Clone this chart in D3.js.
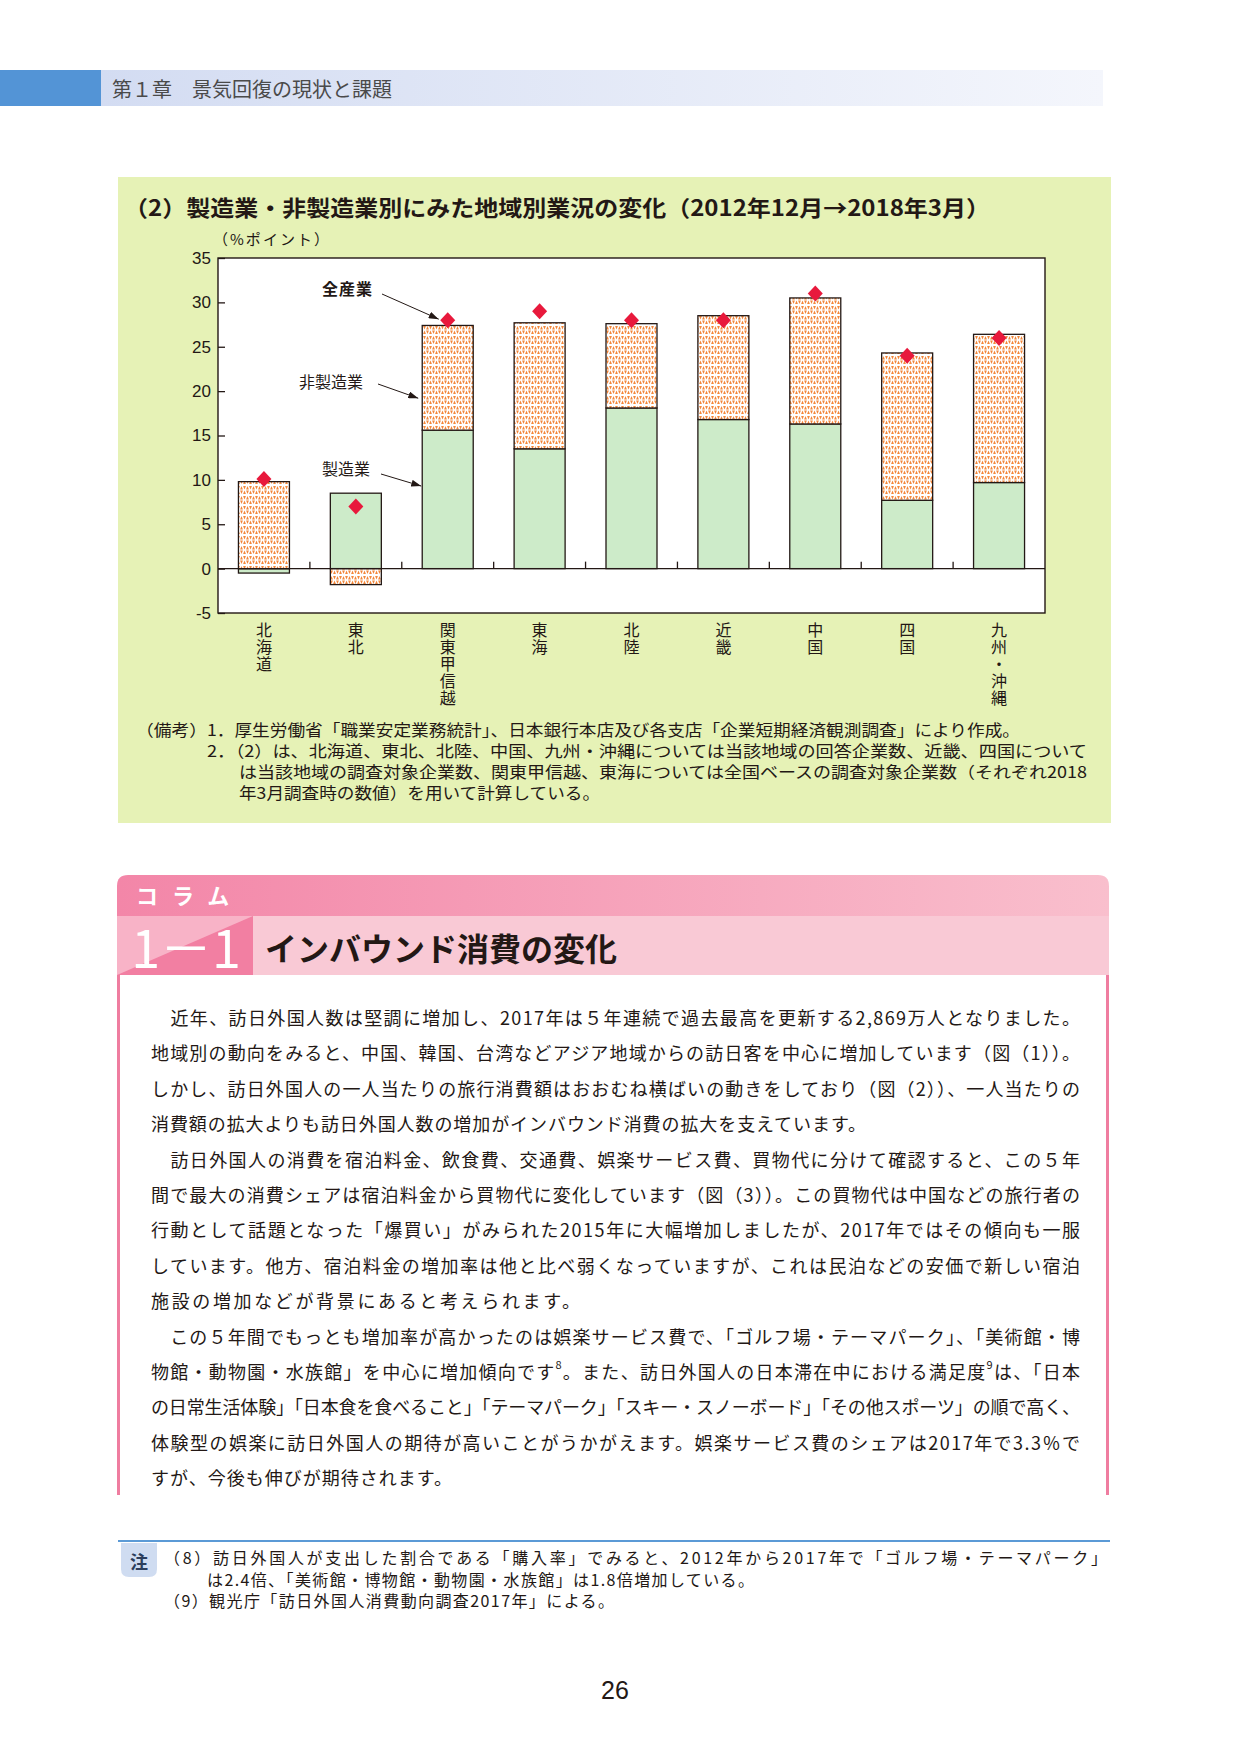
<!DOCTYPE html>
<html>
<head>
<meta charset="utf-8">
<script src="https://cdn.jsdelivr.net/npm/d3@7"></script>
<style>
  body { margin: 0; background: #fff; }
  svg text { font-family: "Noto Sans CJK JP", "Noto Sans", sans-serif; fill: #231815; }
</style>
</head>
<body>
<div id="page"></div>
<script>
// data
const regions = ["北海道", "東北", "関東甲信越", "東海", "北陸", "近畿", "中国", "四国", "九州・沖縄"];
const manufacturing = [-0.5, 8.5, 15.6, 13.5, 18.1, 16.8, 16.3, 7.7, 9.7];
const nonManufacturing = [9.8, -1.8, 11.8, 14.2, 9.5, 11.7, 14.2, 16.6, 16.7];
const allIndustries = [10.1, 7.0, 28.0, 29.0, 28.0, 28.0, 31.0, 24.0, 26.0];
const yTicks = [-5, 0, 5, 10, 15, 20, 25, 30, 35];

const chartTitle = "（2）製造業・非製造業別にみた地域別業況の変化（2012年12月→2018年3月）";
const unitLabel = "（%ポイント）";
const chartNotes = [
  ["（備考）", 136, 207],
  ["1．厚生労働省「職業安定業務統計」、日本銀行本店及び各支店「企業短期経済観測調査」により作成。", 207, 1020],
  ["2．（2）は、北海道、東北、北陸、中国、九州・沖縄については当該地域の回答企業数、近畿、四国について", 207, 1087],
  ["は当該地域の調査対象企業数、関東甲信越、東海については全国ベースの調査対象企業数（それぞれ2018", 239, 1087],
  ["年3月調査時の数値）を用いて計算している。", 239, 600]
];
const noteRows = [0, 0, 1, 2, 3];

const bodyLines = [
  ["　近年、訪日外国人数は堅調に増加し、2017年は５年連続で過去最高を更新する2,869万人となりました。", 1080],
  ["地域別の動向をみると、中国、韓国、台湾などアジア地域からの訪日客を中心に増加しています（図（1））。", 1080],
  ["しかし、訪日外国人の一人当たりの旅行消費額はおおむね横ばいの動きをしており（図（2））、一人当たりの", 1080],
  ["消費額の拡大よりも訪日外国人数の増加がインバウンド消費の拡大を支えています。", 866],
  ["　訪日外国人の消費を宿泊料金、飲食費、交通費、娯楽サービス費、買物代に分けて確認すると、この５年", 1080],
  ["間で最大の消費シェアは宿泊料金から買物代に変化しています（図（3））。この買物代は中国などの旅行者の", 1080],
  ["行動として話題となった「爆買い」がみられた2015年に大幅増加しましたが、2017年ではその傾向も一服", 1080],
  ["しています。他方、宿泊料金の増加率は他と比べ弱くなっていますが、これは民泊などの安価で新しい宿泊", 1080],
  ["施設の増加などが背景にあると考えられます。", 580],
  ["　この５年間でもっとも増加率が高かったのは娯楽サービス費で、「ゴルフ場・テーマパーク」、「美術館・博", 1080],
  ["物館・動物園・水族館」を中心に増加傾向です|8|。また、訪日外国人の日本滞在中における満足度|9|は、「日本", 1080],
  ["の日常生活体験」「日本食を食べること」「テーマパーク」「スキー・スノーボード」「その他スポーツ」の順で高く、", 1080],
  ["体験型の娯楽に訪日外国人の期待が高いことがうかがえます。娯楽サービス費のシェアは2017年で3.3％で", 1080],
  ["すが、今後も伸びが期待されます。", 452]
];

const footNotes = [
  ["（8）訪日外国人が支出した割合である「購入率」でみると、2012年から2017年で「ゴルフ場・テーマパーク」", 164, 1107],
  ["は2.4倍、「美術館・博物館・動物園・水族館」は1.8倍増加している。", 207, 754],
  ["（9）観光庁「訪日外国人消費動向調査2017年」による。", 164, 614]
];

const W = 1241, H = 1754;
const svg = d3.select("#page").append("svg")
  .attr("width", W).attr("height", H)
  .attr("viewBox", `0 0 ${W} ${H}`);
const defs = svg.append("defs");

// header gradient
const hg = defs.append("linearGradient").attr("id", "headGrad");
hg.append("stop").attr("offset", "0%").attr("stop-color", "#d3dcf2");
hg.append("stop").attr("offset", "100%").attr("stop-color", "#f4f6fc");

const pg = defs.append("linearGradient").attr("id", "pinkGrad");
pg.append("stop").attr("offset", "0%").attr("stop-color", "#f386a8");
pg.append("stop").attr("offset", "100%").attr("stop-color", "#f9bfcd");

// orange triangle texture for the non-manufacturing part
const pat = defs.append("pattern").attr("id", "tri")
  .attr("patternUnits", "userSpaceOnUse")
  .attr("width", 6).attr("height", 10);
pat.append("rect").attr("width", 6).attr("height", 10).attr("fill", "#fff");
pat.append("path")
  .attr("d", "M0.1,0.6 L2.9,0.6 L1.5,4 Z M3.1,4 L5.9,4 L4.5,0.6 Z M0.1,9.4 L2.9,9.4 L1.5,6 Z M3.1,6 L5.9,6 L4.5,9.4 Z")
  .attr("fill", "#f3873a");

defs.append("marker").attr("id", "arrow")
  .attr("markerUnits", "userSpaceOnUse")
  .attr("viewBox", "0 0 10 7").attr("refX", 10).attr("refY", 3.5)
  .attr("markerWidth", 10).attr("markerHeight", 7).attr("orient", "auto")
  .append("path").attr("d", "M0,0 L10,3.5 L0,7 Z").attr("fill", "#231815");

// ---- page header
svg.append("rect").attr("x", 0).attr("y", 70).attr("width", 101).attr("height", 36).attr("fill", "#5394d6");
svg.append("rect").attr("x", 101).attr("y", 70).attr("width", 1002).attr("height", 36).attr("fill", "url(#headGrad)");
svg.append("text").attr("x", 112).attr("y", 88).attr("dominant-baseline", "central")
  .attr("font-size", 20).style("fill", "#4a4a4a")
  .text("第１章　景気回復の現状と課題");

// ---- chart panel
svg.append("rect").attr("x", 118).attr("y", 177).attr("width", 993).attr("height", 646).attr("fill", "#e6f2b6");

svg.append("text").attr("x", 124).attr("y", 206).attr("dominant-baseline", "central")
  .attr("font-size", 22).attr("font-weight", "bold")
  .attr("textLength", 866).attr("lengthAdjust", "spacingAndGlyphs")
  .text(chartTitle);

svg.append("text").attr("x", 213).attr("y", 238).attr("dominant-baseline", "central")
  .attr("font-size", 15).attr("textLength", 116).attr("lengthAdjust", "spacing")
  .text(unitLabel);

const plot = { left: 218, right: 1045, top: 258, bottom: 613 };

const x = d3.scaleBand().domain(regions)
  .range([plot.left, plot.right])
  .paddingInner(0.445).paddingOuter(0.2225);
const y = d3.scaleLinear().domain([-5, 35]).range([plot.bottom, plot.top]);

svg.append("rect").attr("x", plot.left).attr("y", plot.top)
  .attr("width", plot.right - plot.left).attr("height", plot.bottom - plot.top)
  .attr("fill", "#fff");

const rows = regions.map((r, i) => ({ region: r, mfg: manufacturing[i], non: nonManufacturing[i] }));
const series = d3.stack().keys(["mfg", "non"]).offset(d3.stackOffsetDiverging)(rows);
const fills = { mfg: "#cdebc9", non: "url(#tri)" };

svg.append("g").selectAll("g").data(series).join("g")
  .attr("fill", d => fills[d.key])
  .selectAll("rect").data(d => d).join("rect")
  .attr("x", d => x(d.data.region))
  .attr("width", x.bandwidth())
  .attr("y", d => y(Math.max(d[0], d[1])))
  .attr("height", d => Math.abs(y(d[0]) - y(d[1])))
  .attr("stroke", "#231815").attr("stroke-width", 1.3);

// zero line and ticks between regions
svg.append("line").attr("x1", plot.left).attr("x2", plot.right)
  .attr("y1", y(0)).attr("y2", y(0)).attr("stroke", "#231815").attr("stroke-width", 1.3);
svg.append("g").selectAll("line").data(regions.slice(1)).join("line")
  .attr("x1", d => x(d) - x.step() * x.paddingInner() / 2)
  .attr("x2", d => x(d) - x.step() * x.paddingInner() / 2)
  .attr("y1", y(0)).attr("y2", y(0) - 7)
  .attr("stroke", "#231815").attr("stroke-width", 1.3);

// y axis with inward ticks
const yAxis = svg.append("g").attr("transform", `translate(${plot.left},0)`)
  .call(d3.axisLeft(y).tickValues(yTicks).tickFormat(d => String(d)).tickSize(-7).tickPadding(7));
yAxis.select(".domain").remove();
yAxis.selectAll(".tick line").attr("stroke", "#231815").attr("stroke-width", 1.3);
yAxis.selectAll(".tick text")
  .style("font-family", "'Liberation Sans', Arial, sans-serif")
  .attr("font-size", 17).style("fill", "#231815");

svg.append("rect").attr("x", plot.left).attr("y", plot.top)
  .attr("width", plot.right - plot.left).attr("height", plot.bottom - plot.top)
  .attr("fill", "none").attr("stroke", "#231815").attr("stroke-width", 1.4);

// all-industry diamonds
svg.append("g").selectAll("path").data(regions).join("path")
  .attr("transform", (d, i) => `translate(${x(d) + x.bandwidth() / 2},${y(allIndustries[i])})`)
  .attr("d", "M0,-8 L7.5,0 L0,8 L-7.5,0 Z")
  .attr("fill", "#e8193c");

// vertical category labels
svg.append("g").selectAll("text").data(regions).join("text")
  .attr("x", d => x(d) + x.bandwidth() / 2)
  .attr("y", 622)
  .style("writing-mode", "vertical-rl")
  .attr("font-size", 16).attr("letter-spacing", 1)
  .text(d => d);

// annotations
const k = regions[2];
const annots = [
  { label: "全産業", bold: true, lx: 322, ly: 288, from: [382, 294], to: [x(k) + x.bandwidth() / 2 - 9, y(allIndustries[2]) - 1] },
  { label: "非製造業", bold: false, lx: 299, ly: 381, from: [378, 384], to: [x(k) - 4, y(19.2)] },
  { label: "製造業", bold: false, lx: 322, ly: 468, from: [381, 474], to: [x(k) - 1, y(9.3)] }
];
annots.forEach(a => {
  svg.append("text").attr("x", a.lx).attr("y", a.ly).attr("dominant-baseline", "central")
    .attr("font-size", 16).attr("font-weight", a.bold ? "bold" : "normal")
    .attr("letter-spacing", a.bold ? 1 : 0)
    .text(a.label);
  svg.append("line").attr("x1", a.from[0]).attr("y1", a.from[1])
    .attr("x2", a.to[0]).attr("y2", a.to[1])
    .attr("stroke", "#231815").attr("stroke-width", 1)
    .attr("marker-end", "url(#arrow)");
});

// chart notes
chartNotes.forEach((n, i) => {
  svg.append("text").attr("x", n[1]).attr("y", 729 + noteRows[i] * 21)
    .attr("dominant-baseline", "central").attr("font-size", 16)
    .attr("textLength", n[2] - n[1]).attr("lengthAdjust", "spacingAndGlyphs")
    .text(n[0]);
});

// ---- column box
const bx0 = 117, bx1 = 1109, r = 11, nx = 253;
svg.append("path")
  .attr("d", `M${bx0},916 L${bx0},${875 + r} Q${bx0},875 ${bx0 + r},875 L${bx1 - r},875 Q${bx1},875 ${bx1},${875 + r} L${bx1},916 Z`)
  .attr("fill", "url(#pinkGrad)");
svg.append("text").attr("x", 136).attr("y", 894).attr("dominant-baseline", "central")
  .attr("font-size", 22).attr("font-weight", "bold").attr("letter-spacing", 14)
  .style("fill", "#fff").text("コラム");
svg.append("rect").attr("x", bx0).attr("y", 916).attr("width", bx1 - bx0).attr("height", 59).attr("fill", "#f9c9d5");
svg.append("rect").attr("x", bx0).attr("y", 916).attr("width", nx - bx0).attr("height", 59).attr("fill", "#f27fa2");
svg.append("path").attr("d", `M${bx0},916 L${nx},916 L${bx0},975 Z`).attr("fill", "#f8b3c7");
svg.append("text").attr("x", 186).attr("y", 945).attr("text-anchor", "middle").attr("dominant-baseline", "central")
  .attr("font-size", 52).style("fill", "#fff").text("1－1");
svg.append("text").attr("x", 265).attr("y", 947).attr("dominant-baseline", "central")
  .attr("font-size", 32).attr("font-weight", "bold").text("インバウンド消費の変化");
[118.5, 1107.5].forEach(xx => {
  svg.append("line").attr("x1", xx).attr("x2", xx).attr("y1", 975).attr("y2", 1495)
    .attr("stroke", "#ef7da0").attr("stroke-width", 3);
});

bodyLines.forEach((l, i) => {
  const t = svg.append("text").attr("x", 151).attr("y", 1017 + i * 35.4)
    .attr("dominant-baseline", "central").attr("font-size", 18)
    .attr("textLength", l[1] - 151).attr("lengthAdjust", "spacing");
  let back = 0;
  l[0].split("|").forEach((part, j) => {
    if (j % 2 === 1) {
      t.append("tspan").attr("font-size", 11).attr("dy", -7).text(part);
      back = 7;
    } else {
      t.append("tspan").attr("dy", back).text(part);
      back = 0;
    }
  });
});

// ---- footnotes
svg.append("line").attr("x1", 118).attr("x2", 1110).attr("y1", 1541).attr("y2", 1541)
  .attr("stroke", "#5b9ad6").attr("stroke-width", 2);
svg.append("path")
  .attr("d", "M121,1543 L157,1543 L157,1569 Q157,1577 149,1577 L129,1577 Q121,1577 121,1569 Z")
  .attr("fill", "#cfdcf1");
svg.append("text").attr("x", 139).attr("y", 1561).attr("text-anchor", "middle").attr("dominant-baseline", "central")
  .attr("font-size", 18).attr("font-weight", "bold").style("fill", "#2c3e5c").text("注");
footNotes.forEach((f, i) => {
  svg.append("text").attr("x", f[1]).attr("y", 1557 + i * 21.5)
    .attr("dominant-baseline", "central").attr("font-size", 16)
    .attr("textLength", f[2] - f[1]).attr("lengthAdjust", "spacing")
    .text(f[0]);
});

svg.append("text").attr("x", 615).attr("y", 1690).attr("text-anchor", "middle").attr("dominant-baseline", "central")
  .attr("font-size", 25).style("font-family", "'Liberation Sans', Arial, sans-serif").text("26");
</script>
</body>
</html>
